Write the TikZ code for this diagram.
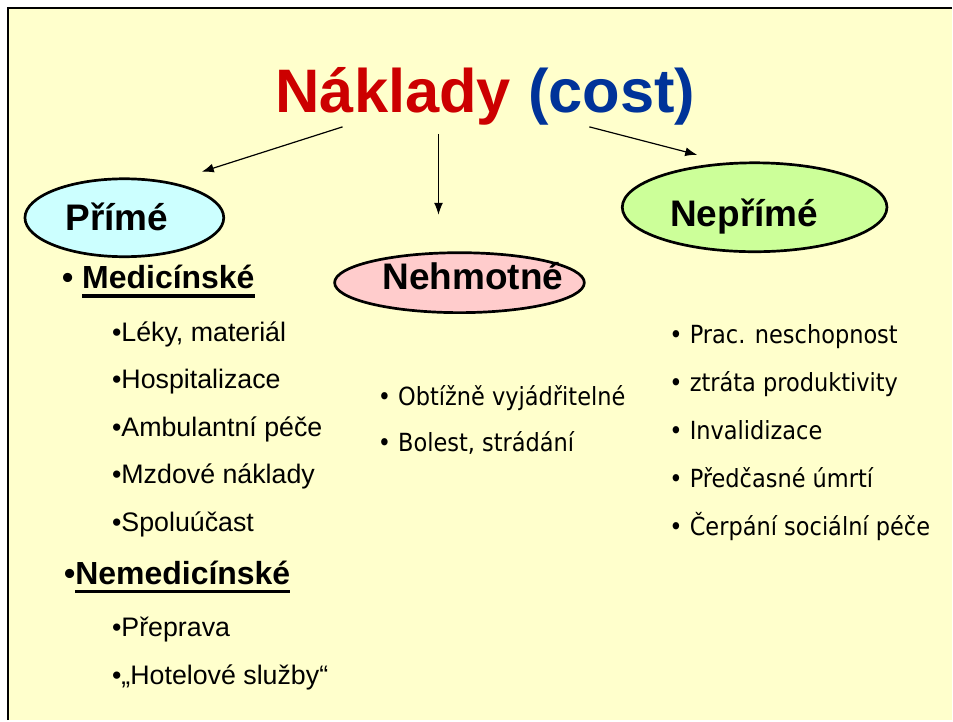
\documentclass[tikz,border=0pt]{standalone}
\usepackage{fontspec}
\setmainfont{Liberation Sans}
\newfontfamily\tahoma{DejaVu Sans Condensed}
\newcommand{\podtrh}[1]{\setbox0\hbox{#1}\rlap{\rule[-9pt]{\wd0}{3.2pt}}\box0}
\usetikzlibrary{arrows.meta, shapes.geometric}
\definecolor{pozadi}{HTML}{FFFFCC}
\definecolor{cervena}{HTML}{CC0000}
\definecolor{modra}{HTML}{003399}
\definecolor{azurova}{HTML}{CCFFFF}
\definecolor{ruzova}{HTML}{FFCCCC}
\definecolor{zelena}{HTML}{CCFF99}
\tikzset{
	oval/.style = {ellipse, draw, line width=2.7pt, inner sep=0pt},
	nazev/.style = {font=\bfseries\fontsize{37}{40}\selectfont, text height=26.5pt, text depth=0pt, inner sep=0pt},
	hlavni/.style = {anchor=base west, inner sep=0pt, font=\bfseries\fontsize{32}{36}\selectfont},
	polozka/.style = {anchor=base west, inner sep=0pt, font=\fontsize{26.8}{30}\selectfont},
	bod/.style = {anchor=base west, inner sep=0pt, font=\tahoma\fontsize{25}{30}\selectfont}
}

\begin{document}
\begin{tikzpicture} [x=1pt, y=-1pt, >={Latex[length=12pt, width=9pt]}]
	%\draw [thin, help lines] (0,0) grid[step=50] (953,721);
	\fill[white] (0,0) rectangle (953,721);
	\fill[pozadi] (8,8) rectangle (953,721);
	\draw[line width=2.2pt] (7.8,721) -- (7.8,8.2) -- (953,8.2);
	\useasboundingbox (0,0) rectangle (953,721);

	\node[anchor=base, inner sep=0pt, font=\bfseries\fontsize{61.5}{64}\selectfont] (naklady) at (486,113)
		{\textcolor{cervena}{Náklady} \textcolor{modra}{(cost)}};

	\node[oval, fill=azurova, minimum width=199pt, minimum height=78pt,
		label={[nazev, xshift=-7.5pt]center:Přímé}] (prime) at (124.5,218) {};
	\node[oval, fill=ruzova, minimum width=250pt, minimum height=60pt,
		label={[nazev, xshift=13.5pt, yshift=6pt]center:Nehmotné}] (nehmotne) at (460,283) {};
	\node[oval, fill=zelena, minimum width=265pt, minimum height=89pt,
		label={[nazev, xshift=-10.5pt, yshift=-6pt]center:Nepřímé}] (neprime) at (755.5,207.5) {};

	\coordinate (z1) at (343,127);
	\coordinate (z2) at (439,134);
	\coordinate (z3) at (590,127);
	\coordinate (k1) at (202,172);
	\coordinate (k2) at (439,215);
	\coordinate (k3) at (698,155);
	\draw[->, line width=1.2pt] (z1) -- (k1);
	\draw[->, line width=1.2pt] (z2) -- (k2);
	\draw[->, line width=1.2pt] (z3) -- (k3);

	% primé naklady
	\node[hlavni] (med) at (62,289) {• \podtrh{Medicínské}};
	\node[polozka] (leky) at (112,342) {•Léky, materiál};
	\node[polozka] (hosp) at (112,389) {•Hospitalizace};
	\node[polozka] (amb) at (112,437) {•Ambulantní péče};
	\node[polozka] (mzdy) at (112,484) {•Mzdové náklady};
	\node[polozka] (spol) at (112,532) {•Spoluúčast};
	\node[hlavni] (nemed) at (64,585) {•\podtrh{Nemedicínské}};
	\node[polozka] (prep) at (112,637) {•Přeprava};
	\node[polozka] (hotel) at (112,685) {•„Hotelové služby“};

	% nehmotné
	\node[bod] (obt) at (378,406) {• Obtížně vyjádřitelné};
	\node[bod] (bol) at (378,452) {• Bolest, strádání};

	% nepřímé
	\node[bod] (prac) at (670,344) {• Prac. neschopnost};
	\node[bod] (ztrata) at (670,392) {• ztráta produktivity};
	\node[bod] (inval) at (670,440) {• Invalidizace};
	\node[bod] (umrti) at (670,488) {• Předčasné úmrtí};
	\node[bod] (cerp) at (670,536) {• Čerpání sociální péče};
\end{tikzpicture}
\end{document}
